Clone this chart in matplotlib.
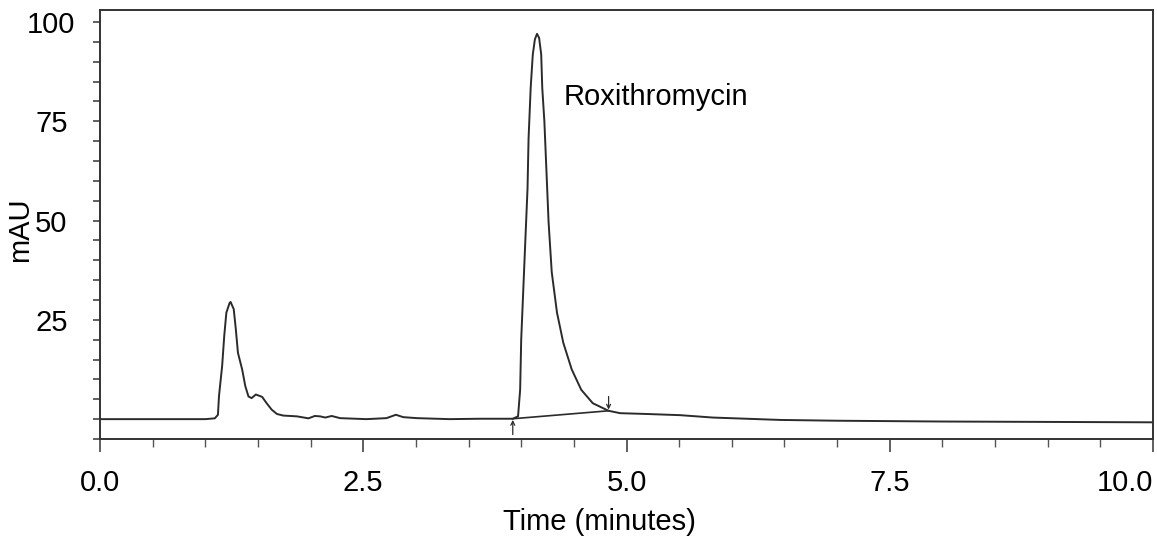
import matplotlib
matplotlib.use("Agg")
import matplotlib.pyplot as plt
import numpy as np

plt.rcParams['font.family'] = ['Liberation Sans', 'DejaVu Sans']

# chromatogram trace (time in minutes, signal in mAU)
time_min = [0.0, 0.5, 1.0, 1.09, 1.12, 1.13, 1.16, 1.18, 1.20, 1.23, 1.24, 1.27,
            1.29, 1.31, 1.35, 1.38, 1.41, 1.44, 1.48, 1.54, 1.58, 1.63, 1.68,
            1.74, 1.87, 1.98, 2.04, 2.09, 2.14, 2.20, 2.28, 2.53, 2.72, 2.81,
            2.88, 3.01, 3.32, 3.61, 3.92, 3.97, 3.99, 4.00, 4.02, 4.04, 4.06,
            4.07, 4.09, 4.11, 4.13, 4.15, 4.17, 4.19, 4.20, 4.22, 4.24, 4.26,
            4.29, 4.34, 4.40, 4.48, 4.57, 4.68, 4.83, 4.94, 5.19, 5.51,
            5.82, 6.46, 7.0, 8.0, 9.0, 10.0]
signal_mau = [0.0, 0.0, 0.0, 0.2, 1.1, 5.8, 13.4, 21.0, 26.8, 29.2, 29.5, 27.7,
              22.6, 16.7, 12.5, 8.3, 5.7, 5.3, 6.2, 5.6, 4.1, 2.4, 1.3,
              0.9, 0.7, 0.2, 0.8, 0.7, 0.4, 0.8, 0.25, 0.0, 0.25, 1.1,
              0.5, 0.25, 0.0, 0.1, 0.1, 0.7, 7.4, 20.0, 32.7, 45.4, 58.0,
              70.7, 83.4, 91.8, 95.6, 97.0, 96.0, 91.8, 83.4, 75.0, 62.3, 49.6,
              37.0, 26.8, 19.2, 12.5, 7.4, 4.0, 2.1, 1.5, 1.3, 1.0,
              0.4, -0.2, -0.4, -0.6, -0.7, -0.8]

# integration baseline drawn under the main peak, with its start/stop marks
base_time = [3.92, 4.83]
base_mau = [0.1, 2.1]

peak_name = "Roxithromycin"
peak_label_pos = (4.40, 81.0)

x_major = [0.0, 2.5, 5.0, 7.5, 10.0]
x_labels = ["0.0", "2.5", "5.0", "7.5", "10.0"]
y_ticks = list(range(-5, 101, 5))
y_labels = [str(v) if v in (25, 50, 75, 100) else "" for v in y_ticks]

W, H = 1157, 538
fig = plt.figure(figsize=(W / 100, H / 100), dpi=100)
ax = fig.add_axes([100 / W, 1 - 439 / H, 1053 / W, 429 / H])

ink = "#2b2b2b"
ax.plot(time_min, signal_mau, color=ink, lw=1.4)
ax.plot(base_time, base_mau, color=ink, lw=1.2)

# start and stop arrows of the integrated peak
ax.annotate("", xy=(base_time[0], base_mau[0] - 0.3), xytext=(base_time[0], base_mau[0] - 4.0),
            arrowprops=dict(arrowstyle="->", color=ink, lw=0.9, shrinkA=0, shrinkB=0,
                            mutation_scale=7))
ax.annotate("", xy=(base_time[1], base_mau[1] + 0.3), xytext=(base_time[1], base_mau[1] + 3.6),
            arrowprops=dict(arrowstyle="->", color=ink, lw=0.9, shrinkA=0, shrinkB=0,
                            mutation_scale=7))

ax.text(peak_label_pos[0], peak_label_pos[1], peak_name, fontsize=21,
        ha="left", va="center", color="black")

ax.set_xlim(0, 10)
ax.set_ylim(-5, 103)

ax.set_xticks(x_major)
ax.set_xticklabels(x_labels)
ax.set_xticks(np.arange(0, 10.01, 0.5), minor=True)
ax.tick_params(axis="x", which="major", direction="out", length=9.5, width=1.2,
               color="#444444", labelsize=21, pad=12)
ax.tick_params(axis="x", which="minor", direction="out", length=5.5, width=1.0,
               color="#555555")
ax.get_xticklabels()[-1].set_horizontalalignment("right")

ax.set_yticks(y_ticks)
ax.set_yticklabels(y_labels)
ax.tick_params(axis="y", which="major", direction="out", length=5, width=1.2,
               color="#444444", labelsize=21, pad=30)
for lab in ax.get_yticklabels():
    lab.set_horizontalalignment("center")

for side in ["left", "right", "top", "bottom"]:
    ax.spines[side].set_color("#333333")
    ax.spines[side].set_linewidth(1.4)

ax.set_xlabel("Time (minutes)", fontsize=21)
ax.xaxis.set_label_coords(0.474, -0.16)
ax.set_ylabel("mAU", fontsize=21)
ax.yaxis.set_label_coords(-0.063, 0.487)

fig.savefig("out.png", dpi=100)
